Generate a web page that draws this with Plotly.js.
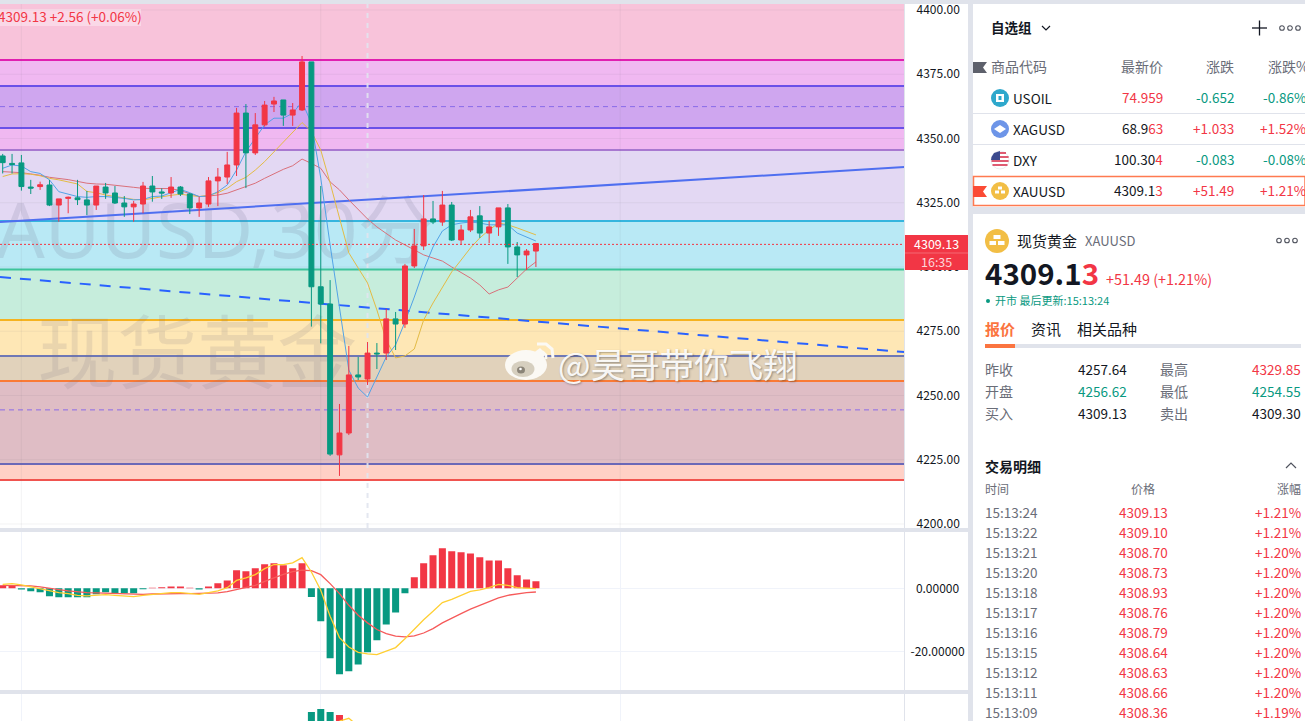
<!DOCTYPE html>
<html><head><meta charset="utf-8">
<script src="https://cdn.plot.ly/plotly-3.0.1.min.js"></script>
<style>html,body{margin:0;padding:0;background:#fff;overflow:hidden}#c{width:1305px;height:721px}</style>
</head><body><div id="c"></div>
<script>
// ---------- data ----------
const openP=[4343.2,4340.3,4340.5,4331.1,4331.3,4331.9,4324.1,4326.7,4326.9,4326.1,4324.1,4331.1,4328.8,4324.9,4323.4,4324.5,4331.5,4329.2,4328.8,4331.1,4328.4,4323.0,4324.5,4333.5,4335.0,4339.7,4359.9,4344.4,4355.3,4363.4,4365.0,4359.1,4361.1,4379.8,4292.3,4285.6,4226.9,4235.4,4258.0,4256.4,4266.5,4266.5,4279.8,4277.8,4300.4,4308.2,4318.7,4317.5,4324.1,4310.5,4314.4,4319.9,4313.2,4315.6,4323.0,4307.8,4304.7,4306.2];
const closeP=[4340.6,4339.9,4331.3,4330.7,4332.0,4324.1,4326.5,4327.1,4326.2,4324.1,4331.5,4328.8,4324.9,4323.4,4324.5,4331.5,4329.2,4328.8,4331.1,4328.4,4323.0,4324.9,4333.5,4335.0,4339.7,4359.9,4344.4,4355.3,4363.0,4364.6,4359.1,4361.1,4379.8,4292.3,4285.6,4227.2,4235.4,4258.0,4257.2,4266.5,4266.2,4279.8,4277.8,4300.4,4308.2,4318.7,4317.5,4324.1,4310.5,4314.4,4319.5,4313.2,4315.6,4323.0,4307.8,4304.7,4306.2,4309.13];
const highP=[4344.0,4344.0,4343.6,4333.9,4333.2,4333.9,4326.5,4327.4,4333.9,4329.6,4331.5,4332.7,4331.5,4327.6,4325.7,4333.1,4335.4,4330.6,4335.0,4331.5,4328.7,4327.4,4335.0,4338.5,4344.8,4361.9,4363.4,4359.9,4364.6,4366.2,4365.0,4363.8,4382.1,4379.8,4331.5,4294.9,4246.7,4269.3,4265.0,4270.8,4270.4,4283.7,4282.5,4301.2,4314.8,4328.0,4325.7,4329.6,4325.3,4316.4,4322.2,4323.7,4317.9,4323.0,4324.5,4309.7,4307.0,4309.13];
const lowP=[4336.4,4336.4,4329.7,4328.4,4330.0,4323.7,4317.6,4320.9,4324.1,4320.2,4322.2,4326.5,4324.5,4319.5,4317.6,4320.9,4325.4,4326.5,4326.9,4327.6,4320.6,4319.5,4323.4,4323.7,4332.3,4335.4,4330.7,4343.6,4354.6,4360.3,4354.9,4354.9,4360.7,4276.8,4270.3,4226.5,4218.7,4234.6,4256.0,4254.1,4260.3,4263.8,4267.7,4276.3,4299.6,4306.6,4316.7,4316.0,4310.1,4308.6,4313.6,4311.3,4309.3,4312.1,4301.2,4296.1,4298.8,4300.0];
const maFast=[4338.4,4339.7,4339.3,4337.1,4336.4,4333.9,4329.3,4328.4,4327.4,4327.1,4327.4,4327.4,4327.1,4326.7,4326.1,4326.3,4327.4,4327.6,4328.9,4330.2,4328.9,4327.4,4327.6,4329.3,4331.9,4337.7,4344.9,4350.1,4355.3,4357.9,4357.9,4359.8,4364.3,4355.9,4334.6,4308.6,4284.4,4259.9,4252.9,4249.4,4257.2,4265.0,4269.7,4278.6,4288.3,4298.8,4307.8,4314.0,4316.4,4317.1,4317.5,4317.1,4316.4,4316.4,4316.4,4313.2,4311.7,4310.1];
const maMid=[4335.2,4336.2,4336.3,4336.1,4335.5,4334.5,4333.9,4333.1,4332.3,4329.4,4328.9,4328.0,4327.4,4326.7,4326.3,4326.1,4326.7,4327.4,4327.9,4328.3,4327.9,4327.4,4327.9,4328.9,4330.6,4333.2,4334.9,4337.7,4341.0,4344.9,4348.8,4352.7,4356.2,4352.7,4345.5,4332.7,4319.5,4305.5,4299.6,4293.8,4283.3,4271.6,4264.6,4265.4,4268.1,4279.4,4286.0,4292.2,4298.1,4302.7,4307.4,4311.3,4314.4,4317.1,4316.4,4315.2,4314.0,4312.5];
const maSlow=[4337.1,4337.0,4336.7,4336.2,4335.7,4334.9,4334.5,4334.0,4333.3,4332.6,4332.3,4332.2,4331.8,4331.3,4331.0,4330.6,4330.6,4330.6,4330.5,4329.7,4328.4,4327.4,4327.6,4328.0,4328.7,4330.0,4331.0,4332.6,4334.5,4336.4,4338.0,4339.4,4342.0,4340.3,4338.4,4333.1,4330.0,4326.1,4322.2,4318.7,4315.6,4313.2,4310.5,4308.6,4306.6,4304.7,4303.5,4302.3,4300.0,4297.7,4295.7,4293.0,4289.5,4291.1,4292.2,4295.7,4299.2,4302.0];
const macdHist=[0.95,0.95,-0.4,-0.95,-1.26,-2.5,-2.84,-2.84,-2.84,-2.84,-1.9,-1.26,-1.58,-1.58,-1.58,-0.3,0.2,0.3,0.6,0.6,0.15,-0.4,0.6,1.58,2.5,5.7,5.4,6.3,7.6,7.9,7.3,6.3,7.9,-2.73,-10.4,-22.1,-27.1,-26.2,-24,-20.2,-16.4,-11.4,-7.6,-1.6,3.5,7.9,10.4,12.6,11.7,11.4,11,9.8,8.8,8.8,6.3,4.1,2.8,2.2];
const macdLine=[1.26,1.47,1.05,0.42,-0.1,-0.63,-1.37,-1.68,-2.2,-2.4,-2.2,-2,-2.2,-2.4,-2.6,-2.2,-1.9,-1.68,-1.37,-1.37,-1.68,-1.9,-1.37,-0.84,0.21,2.5,3.26,4.3,6.2,7.5,7.47,8,9.67,5.15,-0.63,-8.83,-15.56,-18.5,-20.2,-20.7,-20.9,-19.8,-18.7,-15.9,-12.9,-9.9,-7.26,-4.5,-3.5,-2.3,-0.95,-0.53,0.21,1.26,0.95,0.21,0,-0.1];
const macdSignal=[0.95,0.95,0.84,0.74,0.42,-0.1,-0.42,-0.84,-1.16,-1.37,-1.47,-1.58,-1.68,-1.9,-1.9,-1.9,-1.79,-1.68,-1.68,-1.68,-1.68,-1.68,-1.58,-1.47,-1.05,-0.32,0.32,0.95,2.2,3.4,4.4,5.26,5.7,5.6,4.3,1.47,-1.68,-5.36,-8.5,-10.9,-13,-14.3,-15.1,-15.35,-15,-14.1,-12.7,-10.9,-9.36,-8,-6.6,-5.36,-4.1,-3.05,-2.2,-1.68,-1.37,-1.16];
const thirdIdx=[33,34,35,36], thirdVal=[9,12,9,6], thirdUp=[false,false,false,true];
const thirdLineIdx=[36,37,38], thirdLineVal=[0,2.7,-5];
const fibLevels=[4380.5,4370.4,4354.1,4345.5,4317.9,4299.0,4279.4,4265.4,4255.6,4223.3,4217.1];
const fibDashed=[4362.4,4244.4];
const trendUpY=[4317.5,4338.9], trendDownY=[4296.1,4266.9];
const lastPriceLine=4308.8;
const priceTicks=[4400,4375,4350,4325,4300,4275,4250,4225,4200];
const macdTicks=[0,-20], macdTickText=['\u00a0\u00a00.00000','-20.00000'];
const gridBars=[2,34,66];
const crossBar=39;
const watchNames=['USOIL','XAGUSD','DXY','XAUUSD'];
const watchLast=[['74.959',''],['68.9','63'],['100.30','4'],['4309.1','3']];
const watchChg=['-0.652','+1.033','-0.083','+51.49'];
const watchPct=['-0.86%','+1.52%','-0.08%','+1.21%'];
const quoteL=[['昨收','4257.64'],['开盘','4256.62'],['买入','4309.13']];
const quoteR=[['最高','4329.85'],['最低','4254.55'],['卖出','4309.30']];
const tradeTime=['15:13:24','15:13:22','15:13:21','15:13:20','15:13:18','15:13:17','15:13:16','15:13:15','15:13:12','15:13:11','15:13:09'];
const tradePrice=['4309.13','4309.10','4308.70','4308.73','4308.93','4308.76','4308.79','4308.64','4308.63','4308.66','4308.36'];
const tradePct=['+1.21%','+1.21%','+1.20%','+1.20%','+1.20%','+1.20%','+1.20%','+1.20%','+1.20%','+1.20%','+1.19%'];

// ---------- styles ----------
const W=1305,H=721,RED='#f23645',GREEN='#089981',DARK='#131722',GREY='#6a6d78',SEP='#e0e3eb',ORANGE='#fb7440';
const CJK='"Noto Sans CJK SC","Noto Sans",sans-serif';
const px=x=>x/W, py=y=>1-y/H;
const idx=openP.map((_,i)=>i);
const XR=[-0.288,96.4];
const bandTopY=4402.33, plotBottomY=4198.44;
const bandColors=['#f8c3da','#f0b8f1','#cfa6ef','#f0b8f1','#e3d8f3','#b9e9f5','#c6eddc','#fee7b5','#e1d2bb','#dfbdc5','#ffd0c6'];
const lineColors=['#e01fb0','#6a50e8','#6a50e8','#a878d0','#35b5de','#3dc49a','#f5b320','#6f78b5','#fa7a35','#6b68b8','#f0544f'];

// ---------- helpers ----------
const shapes=[], ann=[];
const rectPx=(x0,y0,x1,y1,fill,layer,line)=>shapes.push({type:'rect',xref:'paper',yref:'paper',x0:px(x0),x1:px(x1),y0:py(y0),y1:py(y1),fillcolor:fill,line:line||{width:0},layer:layer||'above'});
const linePx=(x0,y0,x1,y1,color,w)=>shapes.push({type:'line',xref:'paper',yref:'paper',x0:px(x0),x1:px(x1),y0:py(y0),y1:py(y1),line:{color:color,width:w||1},layer:'above'});
const circ=(cx,cy,rx,ry,fill,line)=>shapes.push({type:'circle',xref:'paper',yref:'paper',x0:px(cx-rx),x1:px(cx+rx),y0:py(cy-ry),y1:py(cy+ry),fillcolor:fill,line:line||{width:0},layer:'above'});
const pathPx=(pts,fill,line,close)=>shapes.push({type:'path',xref:'paper',yref:'paper',path:pts.map((p,i)=>(i?'L':'M')+px(p[0])+' '+py(p[1])).join(' ')+(close?' Z':''),fillcolor:fill||'rgba(0,0,0,0)',line:line||{width:0},layer:'above'});
const T=(x,y,text,o)=>{o=o||{};ann.push({xref:'paper',yref:'paper',x:px(x),y:py(y-1),text:text,showarrow:false,xanchor:o.a||'left',yanchor:'middle',borderpad:0,borderwidth:0,bgcolor:o.bg||'rgba(0,0,0,0)',font:{family:o.f||CJK,size:o.s||13.5,color:o.c||DARK,shadow:o.shadow||'none',weight:o.w||400}});};
const dots=(cx,cy)=>{[-8,0,8].forEach(d=>circ(cx+d,cy,2.3,2.3,'#fff',{color:'#50535e',width:1.1}));};
const col=(c,t)=>'<span style="color:'+c+'">'+t+'</span>';

// ---------- fibonacci bands (below traces) ----------
const edges=[bandTopY].concat(fibLevels);
const xEnd=px(904.5);
for(let i=0;i<fibLevels.length;i++){
  shapes.push({type:'rect',xref:'paper',yref:'y',x0:0,x1:xEnd,y0:edges[i],y1:edges[i+1],fillcolor:bandColors[i],line:{width:0},layer:'below'});
}
priceTicks.forEach(v=>shapes.push({type:'line',xref:'paper',yref:'y',x0:0,x1:xEnd,y0:v,y1:v,line:{color:'rgba(100,100,120,0.08)',width:1},layer:'below'}));
gridBars.forEach(v=>shapes.push({type:'line',xref:'x',yref:'y',x0:v,x1:v,y0:plotBottomY,y1:bandTopY,line:{color:'rgba(100,100,120,0.08)',width:1},layer:'below'}));
fibLevels.forEach((v,i)=>shapes.push({type:'line',xref:'paper',yref:'y',x0:0,x1:xEnd,y0:v,y1:v,line:{color:lineColors[i],width:2},layer:'below'}));
fibDashed.forEach(v=>shapes.push({type:'line',xref:'paper',yref:'y',x0:0,x1:xEnd,y0:v,y1:v,line:{color:'#8a6be8',width:1,dash:'5px 4px'},layer:'below'}));
shapes.push({type:'line',xref:'x',yref:'y',x0:crossBar,x1:crossBar,y0:plotBottomY,y1:bandTopY,line:{color:'rgba(225,228,238,0.9)',width:2,dash:'5px 5px'},layer:'below'});

// ---------- frame ----------
rectPx(0,0,968,4,SEP);
rectPx(0,528,968,532,SEP);
rectPx(0,690,968,694,SEP);
linePx(904.5,4,904.5,721,SEP,1);
rectPx(968,0,1305,721,SEP);
rectPx(973,4,1305,207,'#fff');
rectPx(973,214,1305,721,'#fff');

// legend strip
rectPx(0,9,141,26,'rgba(255,255,255,0.35)');
T(-2,17.5,'4309.13 +2.56 (+0.06%)',{c:RED,s:13.5});

// price tag
rectPx(905,235,968,270,RED);
linePx(905,253,968,253,'rgba(255,255,255,0.25)',1);
T(936.5,244,'4309.13',{a:'center',c:'#fff',s:12.5});
T(936.5,262,'16:35',{a:'center',c:'#fdd7db',s:12.5});

// weibo mark
circ(526,365,21,15,'#fbf9f4');
circ(523,369,11.5,8,'#d6cfbf');
circ(521,370,4,3.5,'#8a8478');
circ(520.5,369,1.3,1.3,'#fff');
pathPx([[532,354],[540,348],[546,354],[541,360]],'#fbf9f4');
pathPx([[537,344],[546,344],[552,349],[553,358]],null,{color:'#fbf9f4',width:3});
pathPx([[538,352],[543,352],[546,355],[546,359]],null,{color:'#fbf9f4',width:2.5});
T(558,364,'@昊哥带你飞翔',{s:34.5,c:'rgba(255,255,255,0.92)',shadow:'1px 1px 2px rgba(60,60,60,0.5)'});

// ---------- watchlist ----------
T(991,28,'<b>自选组</b>',{s:13.5});
pathPx([[1042,26],[1046,30],[1050,26]],null,{color:DARK,width:1.2});
linePx(1252,28,1267,28,DARK,1.3); linePx(1259.5,20.5,1259.5,35.5,DARK,1.3);
dots(1290,28);
pathPx([[973,62],[987,62],[983,67.5],[987,73],[973,73]],'#5d606b',null,true);
T(991,67,'商品代码',{s:14,c:GREY});
T(1163,67,'最新价',{a:'right',s:14,c:GREY});
T(1234,67,'涨跌',{a:'right',s:14,c:GREY});
T(1309,67,'涨跌%',{a:'right',s:14,c:GREY});
const rowY=[98,129,160,191];
linePx(973,113.5,1305,113.5,SEP,1); linePx(973,144.5,1305,144.5,SEP,1);
rectPx(973.5,176.5,1305,205.5,'rgba(0,0,0,0)','above',{color:'#ff7a50',width:1.5});
pathPx([[973,186],[987,186],[983,191.5],[987,197],[973,197]],'#fb4b35',null,true);
watchNames.forEach((n,i)=>{
  const y=rowY[i];
  T(1013,y+1,n,{s:13.5});
  const l=watchLast[i];
  T(1163,y,i===0?col(RED,l[0]):l[0]+col(RED,l[1]),{a:'right',s:13.5});
  const c=watchChg[i][0]==='+'?RED:GREEN;
  T(1234,y,watchChg[i],{a:'right',s:13.5,c:c});
  T(1306,y,watchPct[i],{a:'right',s:13.5,c:c});
});
// icons
circ(1000,98,9,9,'#2ea8cc'); rectPx(996,94,1004,102,'#fff'); rectPx(998.5,96,1001.5,100,'#2ea8cc');
circ(1000,129,9,9,'#6d95e8'); pathPx([[994,129],[1000,125],[1006,129],[1000,133]],'#fff',null,true);
circ(1000,160,9,9,'#fff',{color:'#d8dbe4',width:0.5});
pathPx([[991.5,157],[994,153],[1000,151],[1000,160],[991,160]],'#3c4a8e',null,true);
linePx(1000,153,1006,153,'#d8324f',1.6); linePx(1000,157,1008.6,157,'#d8324f',1.6);
linePx(991.5,161,1008.6,161,'#d8324f',1.6); linePx(992.5,165,1007.5,165,'#d8324f',1.6); 
circ(1000,191,9,9,'#f2be45'); rectPx(998,186.5,1002,189.5,'#fff'); rectPx(995,190.5,999,193.5,'#fff'); rectPx(1001,190.5,1005,193.5,'#fff');

// ---------- detail ----------
circ(997,241,12,12,'#f2be45'); rectPx(993.5,235,1000.5,239,'#fff'); rectPx(989.5,241,996,245,'#fff'); rectPx(998,241,1004.5,245,'#fff');
T(1017,241,'现货黄金',{s:15});
T(1085,241,'XAUUSD',{s:13,c:GREY});
dots(1287,240.5);
T(985,273,'<b>4309.1'+col(RED,'3')+'</b>',{s:29.5});
T(1106,279,'+51.49 (+1.21%)',{s:14.4,c:RED});
circ(988,301,2,2,GREEN);
T(995,301,'开市 最后更新:15:13:24',{s:11,c:GREEN});
T(985,329,'<b>报价</b>',{s:15,c:ORANGE});
T(1031,329,'资讯',{s:15});
T(1077,329,'相关品种',{s:15});
rectPx(985,344,1301,348,SEP);
rectPx(985,344,1015,348,ORANGE);
const quoteY=[370,392,414];
quoteL.forEach((r,i)=>{T(985,quoteY[i],r[0],{s:14,c:GREY});T(1127,quoteY[i],r[1],{a:'right',s:13.5,c:i===1?GREEN:DARK});});
quoteR.forEach((r,i)=>{T(1160,quoteY[i],r[0],{s:14,c:GREY});T(1301,quoteY[i],r[1],{a:'right',s:13.5,c:i===0?RED:i===1?GREEN:DARK});});
T(985,467,'<b>交易明细</b>',{s:14});
pathPx([[1286,468],[1291,463],[1296,468]],null,{color:'#50535e',width:1.2});
T(985,489,'时间',{s:12,c:GREY});
T(1143,489,'价格',{a:'center',s:12,c:GREY});
T(1301,489,'涨幅',{a:'right',s:12,c:GREY});
tradeTime.forEach((t,i)=>{
  const y=513+i*20;
  T(985,y,t,{s:13.5,c:GREY});
  T(1143,y,tradePrice[i],{a:'center',s:13.5,c:RED});
  T(1301,y,tradePct[i],{a:'right',s:13.5,c:RED});
});

// ---------- traces ----------
const line=(y,c,w,extra)=>Object.assign({type:'scatter',mode:'lines',x:idx,y:y,line:{color:c,width:w},hoverinfo:'skip',showlegend:false,zorder:0},extra||{});
const traces=[
 {type:'scatter',mode:'text',x:[20.3],y:[4311],text:['XAUUSD,30分'],textposition:'middle center',textfont:{family:'"Noto Sans","Noto Sans CJK SC",sans-serif',size:76,color:'rgba(110,115,140,0.17)'},hoverinfo:'skip',showlegend:false,zorder:-1,cliponaxis:true},
 {type:'scatter',mode:'text',x:[20.8],y:[4263],text:['现货黄金'],textposition:'middle center',textfont:{family:CJK,size:80,color:'rgba(120,115,125,0.15)'},hoverinfo:'skip',showlegend:false,zorder:-1,cliponaxis:true},
 {type:'scatter',mode:'lines',x:XR,y:trendUpY,line:{color:'#4f6ff0',width:2},hoverinfo:'skip',showlegend:false,zorder:0},
 {type:'scatter',mode:'lines',x:XR,y:trendDownY,line:{color:'#2962ff',width:2,dash:'11px 9px'},hoverinfo:'skip',showlegend:false,zorder:0},
 line(maSlow,'#d9707a',1),
 line(maMid,'#e3bb45',1),
 line(maFast,'#52a3e6',1),
 {type:'candlestick',x:idx,open:openP,high:highP,low:lowP,close:closeP,
  increasing:{line:{color:RED,width:1},fillcolor:RED},decreasing:{line:{color:GREEN,width:1},fillcolor:GREEN},
  whiskerwidth:0,hoverinfo:'skip',showlegend:false,zorder:2},
 {type:'scatter',mode:'lines',x:XR,y:[lastPriceLine,lastPriceLine],line:{color:'#f5323f',width:1,dash:'2px 2px'},hoverinfo:'skip',showlegend:false,zorder:3},
 {type:'bar',xaxis:'x2',yaxis:'y2',x:idx,y:macdHist,width:0.75,marker:{color:macdHist.map(v=>v>=0?RED:GREEN),line:{width:0}},hoverinfo:'skip',showlegend:false},
 line(macdSignal,'#f65a5a',1.3,{xaxis:'x2',yaxis:'y2'}),
 line(macdLine,'#ffcf33',1.3,{xaxis:'x2',yaxis:'y2'}),
 {type:'bar',xaxis:'x3',yaxis:'y3',x:thirdIdx,y:thirdVal,width:0.75,marker:{color:thirdUp.map(u=>u?RED:GREEN),line:{width:0}},hoverinfo:'skip',showlegend:false},
 {type:'scatter',mode:'lines',xaxis:'x3',yaxis:'y3',x:thirdLineIdx,y:thirdLineVal,line:{color:'#ffcf33',width:1.3},hoverinfo:'skip',showlegend:false}
];
const xBase={range:XR,domain:[0,904.5/W],showticklabels:false,ticks:'',tickvals:gridBars,gridcolor:'#f0f3fa',gridwidth:1,zeroline:false,showline:false,fixedrange:true};
const yTick={family:CJK,size:12,color:DARK};
const layout={
 width:W,height:H,margin:{l:0,r:0,t:0,b:0,pad:0},paper_bgcolor:'#fff',plot_bgcolor:'#fff',showlegend:false,
 boxgap:0.25,hovermode:false,dragmode:false,bargap:0.25,
 xaxis:Object.assign({},xBase,{anchor:'y',showgrid:false,rangeslider:{visible:false}}),
 xaxis2:Object.assign({},xBase,{anchor:'y2'}),
 xaxis3:Object.assign({},xBase,{anchor:'y3'}),
 yaxis:{domain:[py(528),py(4)],range:[plotBottomY,bandTopY],side:'right',anchor:'x',tickvals:priceTicks,ticktext:priceTicks.map(v=>v.toFixed(2)),tickfont:yTick,ticks:'',ticklabelstandoff:11,showgrid:false,zeroline:false,showline:false,fixedrange:true},
 yaxis2:{domain:[py(690),py(532)],range:[-32.08,17.76],side:'right',anchor:'x2',tickvals:macdTicks,ticktext:macdTickText,tickfont:yTick,ticks:'',ticklabelstandoff:5,gridcolor:'#f0f3fa',zeroline:false,showline:false,fixedrange:true},
 yaxis3:{domain:[0,py(694)],range:[0,27],side:'right',anchor:'x3',showticklabels:false,ticks:'',showgrid:false,zeroline:false,showline:false,fixedrange:true},
 shapes:shapes,annotations:ann
};
Plotly.newPlot('c',traces,layout,{staticPlot:true,displayModeBar:false});
</script></body></html>
